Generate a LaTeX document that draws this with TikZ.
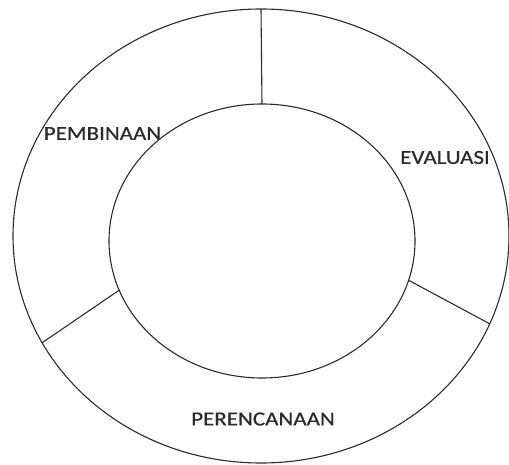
\documentclass[tikz,border=0pt]{standalone}
\usepackage{fontspec}
\setmainfont{Carlito}
\newfontfamily\phasefont[FakeStretch=1.15, FakeBold=0.6]{Carlito}
\usetikzlibrary{shapes.geometric}
\definecolor{ink}{HTML}{2B2B2B}
\tikzset{
	ring/.style={draw=ink, ellipse, line width=1.1pt, inner sep=0pt, outer sep=0pt},
	part/.style={draw=ink, line width=1.1pt},
	phase/.style={text=ink, font=\phasefont\fontsize{20}{24}\selectfont, inner sep=0pt}
}
\begin{document}
\begin{tikzpicture}[x=1pt, y=-1pt]
	\useasboundingbox (0,0) rectangle (509,465);
	\node[ring, minimum width=496pt, minimum height=454pt] (outer) at (261,236) {};
	\node[ring, minimum width=306pt, minimum height=274pt] (inner) at (262,241) {};
	% the three sectors
	\draw[part] (inner.90) -- (outer.90);
	\draw[part] (inner.199) -- (outer.206);
	\draw[part] (inner.345) -- (outer.339);
	\node[phase] (bina) at (102.5,133.5) {PEMBINAAN};
	\node[phase] (eval) at (445,157.5) {EVALUASI};
	\node[phase] (renc) at (263,419) {PERENCANAAN};
\end{tikzpicture}
\end{document}
